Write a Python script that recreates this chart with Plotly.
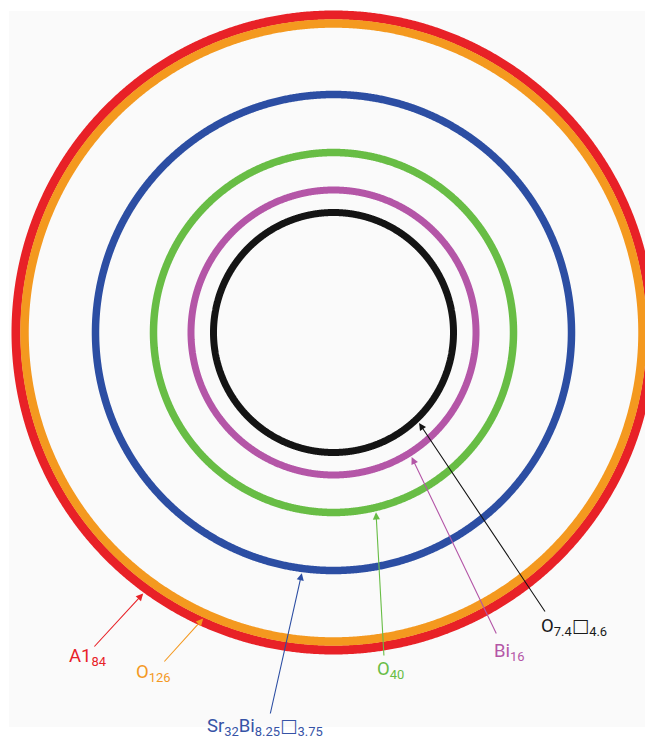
import numpy as np
import plotly.graph_objects as go

# Vacancy box drawn in a font whose white square fills the cap height
BOX = "<span style=\"font-family:'DejaVu Sans'\">□</span>"

# Concentric coordination shells, innermost first
shell_labels = [
    "O<sub>7.4</sub>" + BOX + "<sub>4.6</sub>",
    "Bi<sub>16</sub>",
    "O<sub>40</sub>",
    "Sr<sub>32</sub>Bi<sub>8.25</sub>" + BOX + "<sub>3.75</sub>",
    "O<sub>126</sub>",
    "A1<sub>84</sub>",
]
shell_radii = [120, 142.5, 180, 238, 309, 317.5]

# Styling per shell
shell_colors = ["#141414", "#b456a7", "#68bd45", "#2c4ea3", "#f4991f", "#e82127"]
text_colors = ["#1a1a1a", "#b456a7", "#68bd45", "#3653a6", "#f4991f", "#e82127"]
ring_widths = [7, 7, 7.5, 7.5, 8.5, 9]

# Callout layout (units = px from ring centre): pointer angle on the ring,
# pointer tail, and top-centre of each label
pointer_angle = [313.4, 302.1, 283.3, 262.5, 245.5, 233.9]
tail_xy = [(212.5, -280.5), (163.5, -302.5), (50.5, -324.5),
           (-63.5, -382.5), (-170.5, -330.5), (-240.5, -315.5)]
label_top = [(240.5, -281), (176, -306), (56.5, -324),
             (-68.5, -381), (-180, -327), (-246.5, -311)]

W, H = 645, 740
CX, CY = 333.5, 332.5  # ring centre in page pixels

fig = go.Figure()

theta = np.linspace(0, 2 * np.pi, 1441)
# outermost first so inner rings sit on top
for r, c, w in reversed(list(zip(shell_radii, shell_colors, ring_widths))):
    fig.add_trace(go.Scatter(
        x=r * np.cos(theta), y=r * np.sin(theta),
        mode="lines", line=dict(color=c, width=w, simplify=False),
        hoverinfo="skip", showlegend=False,
    ))

annotations = []
font_family = "Roboto, Liberation Sans, sans-serif"
for lab, r, w, ang, tail, pos, tc, lc in zip(shell_labels, shell_radii, ring_widths,
                                            pointer_angle, tail_xy, label_top,
                                            text_colors, shell_colors):
    a = np.deg2rad(ang)
    tip = r + w / 2 + 1
    # pointer line with arrowhead on the ring
    annotations.append(dict(
        x=tip * np.cos(a), y=tip * np.sin(a), xref="x", yref="y",
        ax=tail[0], ay=tail[1], axref="x", ayref="y",
        text="", showarrow=True, arrowhead=2, arrowsize=1.3,
        arrowwidth=1.1, arrowcolor=lc,
    ))
    # shell label
    annotations.append(dict(
        x=pos[0], y=pos[1], xref="x", yref="y", text=lab, showarrow=False,
        xanchor="center", yanchor="top", borderpad=0,
        font=dict(family=font_family, size=18.5, color=tc),
    ))

fig.update_layout(
    width=W, height=H,
    margin=dict(l=0, r=0, t=0, b=0),
    paper_bgcolor="white", plot_bgcolor="white",
    xaxis=dict(range=[-CX, W - CX], visible=False, fixedrange=True),
    yaxis=dict(range=[CY - H, CY], visible=False, fixedrange=True),
    annotations=annotations,
    shapes=[dict(type="rect", xref="paper", yref="paper",
                 x0=9 / W, x1=1, y0=1 - 727 / H, y1=1 - 11 / H,
                 fillcolor="#fafafa", line=dict(width=0), layer="below")],
)

fig.write_html("out.html")
